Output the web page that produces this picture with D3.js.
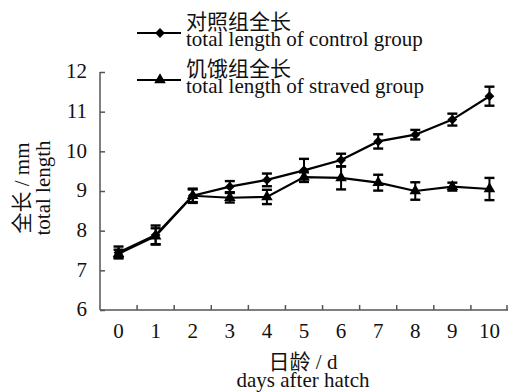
<!DOCTYPE html>
<html>
<head>
<meta charset="utf-8">
<script src="https://cdn.jsdelivr.net/npm/d3@7"></script>
<style>
  html, body { margin: 0; padding: 0; background: #fff; }
</style>
</head>
<body>
<svg id="chart" width="508" height="392"></svg>
<script>
// Days after hatch
const days = [0, 1, 2, 3, 4, 5, 6, 7, 8, 9, 10];
// Total length (mm), control group: mean and SD
const controlMean = [7.45, 7.89, 8.88, 9.11, 9.28, 9.52, 9.78, 10.25, 10.42, 10.80, 11.39];
const controlSD   = [0.15, 0.24, 0.18, 0.14, 0.16, 0.29, 0.16, 0.18, 0.12, 0.15, 0.24];
// Total length (mm), starved group: mean and SD
const starvedMean = [7.42, 7.86, 8.88, 8.83, 8.85, 9.35, 9.33, 9.21, 9.00, 9.11, 9.05];
const starvedSD   = [0.10, 0.20, 0.16, 0.12, 0.18, 0.12, 0.29, 0.20, 0.22, 0.10, 0.28];
const yTicks = [6, 7, 8, 9, 10, 11, 12];

const FONT = "'Liberation Serif', 'Times New Roman', 'Noto Sans CJK SC', serif";
const FS = 21;

const svg = d3.select("#chart");
const plotLeft = 100, plotRight = 508, plotTop = 72, plotBottom = 310;

const x = d3.scaleBand().domain(days).range([plotLeft, plotRight]).paddingInner(0).paddingOuter(0);
const y = d3.scaleLinear().domain([6, 12]).range([plotBottom, plotTop]);
const cx = d => x(d) + x.bandwidth() / 2;

const axisColor = "#555";

function label(g) {
  return g.attr("font-family", FONT).attr("font-size", FS).attr("fill", "#111");
}

// y axis with inward ticks
const yAxis = svg.append("g").attr("transform", `translate(${plotLeft},0)`)
  .call(d3.axisRight(y).tickValues(yTicks).tickSize(5).tickFormat(""));
yAxis.select(".domain").remove();
yAxis.selectAll("line").attr("stroke", axisColor).attr("stroke-width", 1.5);
svg.append("line").attr("x1", plotLeft).attr("x2", plotLeft).attr("y1", y(12)).attr("y2", plotBottom)
  .attr("stroke", axisColor).attr("stroke-width", 1.5);
svg.append("g").call(label).selectAll("text").data(yTicks).join("text")
  .attr("x", plotLeft - 13).attr("y", d => y(d)).attr("dy", "0.3em")
  .attr("text-anchor", "end").text(d => d);

// x axis: ticks at band boundaries pointing up, labels centred in bands
const bounds = days.map(d => x(d) + x.bandwidth());
svg.append("line").attr("x1", plotLeft).attr("x2", plotRight).attr("y1", plotBottom).attr("y2", plotBottom)
  .attr("stroke", axisColor).attr("stroke-width", 1.5);
svg.append("g").selectAll("line").data(bounds).join("line")
  .attr("x1", d => Math.min(d, plotRight - 1)).attr("x2", d => Math.min(d, plotRight - 1))
  .attr("y1", plotBottom).attr("y2", plotBottom - 5)
  .attr("stroke", axisColor).attr("stroke-width", 1.5);
svg.append("g").call(label).selectAll("text").data(days).join("text")
  .attr("x", d => cx(d)).attr("y", 338)
  .attr("text-anchor", "middle").text(d => d);

// axis titles
svg.append("text").call(label).attr("x", 303).attr("y", 369).attr("text-anchor", "middle").text("日龄 / d");
svg.append("text").call(label).attr("x", 303).attr("y", 387).attr("text-anchor", "middle").text("days after hatch");
svg.append("text").call(label).attr("transform", "translate(29,188) rotate(-90)").attr("text-anchor", "middle").text("全长 / mm");
svg.append("text").call(label).attr("transform", "translate(50,188) rotate(-90)").attr("text-anchor", "middle").text("total length");

const line = d3.line().x((d, i) => cx(days[i])).y(d => y(d));
const diamond = { path: d3.symbol().type(d3.symbolSquare).size(48)(), rot: 45 };
const triangle = { path: d3.symbol().type(d3.symbolTriangle).size(58)(), rot: 0 };

function drawSeries(means, sds, sym) {
  const g = svg.append("g");
  g.append("path").datum(means).attr("d", line)
    .attr("fill", "none").attr("stroke", "#000").attr("stroke-width", 2.2);
  const eb = g.append("g").selectAll("g").data(means).join("g");
  eb.append("line")
    .attr("x1", (d, i) => cx(days[i])).attr("x2", (d, i) => cx(days[i]))
    .attr("y1", (d, i) => y(d + sds[i])).attr("y2", (d, i) => y(d - sds[i]))
    .attr("stroke", "#000").attr("stroke-width", 2);
  [1, -1].forEach(s => {
    eb.append("line")
      .attr("x1", (d, i) => cx(days[i]) - 5).attr("x2", (d, i) => cx(days[i]) + 5)
      .attr("y1", (d, i) => y(d + s * sds[i])).attr("y2", (d, i) => y(d + s * sds[i]))
      .attr("stroke", "#000").attr("stroke-width", 2.4);
  });
  g.append("g").selectAll("path").data(means).join("path")
    .attr("d", sym.path)
    .attr("transform", (d, i) => `translate(${cx(days[i])},${y(d)}) rotate(${sym.rot})`)
    .attr("fill", "#000");
}
drawSeries(controlMean, controlSD, diamond);
drawSeries(starvedMean, starvedSD, triangle);

// legend
const legend = [
  { cn: "对照组全长", en: "total length of control group", sym: diamond, y: 33 },
  { cn: "饥饿组全长", en: "total length of straved group", sym: triangle, y: 80 }
];
legend.forEach(l => {
  svg.append("line").attr("x1", 137).attr("x2", 181).attr("y1", l.y).attr("y2", l.y)
    .attr("stroke", "#000").attr("stroke-width", 2.2);
  svg.append("path").attr("d", l.sym.path)
    .attr("transform", `translate(160,${l.y}) rotate(${l.sym.rot})`).attr("fill", "#000");
  svg.append("text").call(label).attr("x", 186).attr("y", l.y - 4).text(l.cn);
  svg.append("text").call(label).attr("x", 186).attr("y", l.y + 13).text(l.en);
});
</script>
</body>
</html>
